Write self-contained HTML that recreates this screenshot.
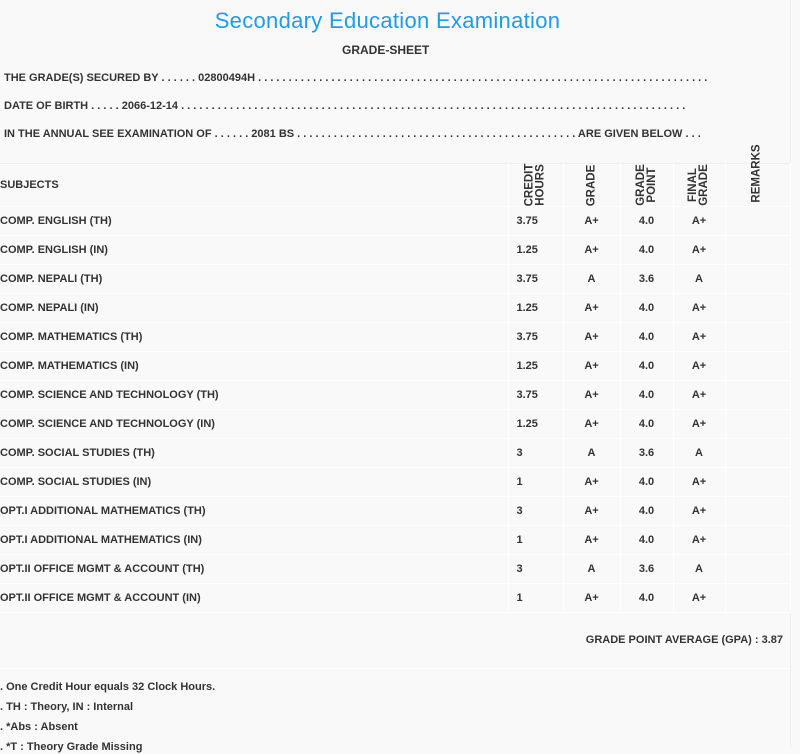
<!DOCTYPE html>
<html><head><meta charset="utf-8"><style>
body{margin:0;width:800px;height:747px;background:#f9f9f9;overflow:hidden;font-family:"Liberation Sans",sans-serif;color:#333;}
.t{position:absolute;white-space:nowrap;font-size:11px;font-weight:bold;line-height:14px}
.title{position:absolute;left:0;width:775px;text-align:center;top:8px;font-size:22px;color:#1e9be9;font-weight:normal;letter-spacing:0.3px}
.wrap{position:absolute;left:0;top:0;width:790px;height:747px;border-right:1px solid #eee}
table{position:absolute;left:0;top:163px;border-collapse:collapse;width:790px;table-layout:fixed}
td{border:1px solid #fff;border-left:none;height:28px;padding:0;font-size:11px;font-weight:bold;text-align:center;overflow:visible}
td:first-child{text-align:left}
tr.h td{height:42px;border-top:1px solid #eee}
.v{display:inline-block;transform:rotate(-90deg);line-height:11px;font-size:11.5px}
.c2{text-align:left!important;padding-left:8px!important}
</style></head><body>
<div class="wrap"></div>
<div class="title">Secondary Education Examination</div>
<div class="t" style="left:342px;top:43px;font-size:12px">GRADE-SHEET</div>
<div class="t" style="left:4px;top:71px">THE GRADE(S) SECURED BY . . . . . . 02800494H . . . . . . . . . . . . . . . . . . . . . . . . . . . . . . . . . . . . . . . . . . . . . . . . . . . . . . . . . . . . . . . . . . . . . . . . . .</div>
<div class="t" style="left:4px;top:99px">DATE OF BIRTH . . . . . 2066-12-14 . . . . . . . . . . . . . . . . . . . . . . . . . . . . . . . . . . . . . . . . . . . . . . . . . . . . . . . . . . . . . . . . . . . . . . . . . . . . . . . . . . .</div>
<div class="t" style="left:4px;top:127px">IN THE ANNUAL SEE EXAMINATION OF . . . . . . 2081 BS . . . . . . . . . . . . . . . . . . . . . . . . . . . . . . . . . . . . . . . . . . . . . . ARE GIVEN BELOW . . .</div>
<table>
<colgroup><col style="width:508px"><col style="width:55px"><col style="width:57px"><col style="width:53px"><col style="width:52px"><col style="width:65px"></colgroup>
<tr class="h"><td>SUBJECTS</td><td><span class="v">CREDIT<br>HOURS</span></td><td><span class="v">GRADE</span></td><td><span class="v">GRADE<br>POINT</span></td><td><span class="v">FINAL<br>GRADE</span></td><td><span class="v" style="position:relative;top:-12px">REMARKS</span></td></tr>
<tr><td>COMP. ENGLISH (TH)</td><td class="c2">3.75</td><td>A+</td><td>4.0</td><td>A+</td><td></td></tr>
<tr><td>COMP. ENGLISH (IN)</td><td class="c2">1.25</td><td>A+</td><td>4.0</td><td>A+</td><td></td></tr>
<tr><td>COMP. NEPALI (TH)</td><td class="c2">3.75</td><td>A</td><td>3.6</td><td>A</td><td></td></tr>
<tr><td>COMP. NEPALI (IN)</td><td class="c2">1.25</td><td>A+</td><td>4.0</td><td>A+</td><td></td></tr>
<tr><td>COMP. MATHEMATICS (TH)</td><td class="c2">3.75</td><td>A+</td><td>4.0</td><td>A+</td><td></td></tr>
<tr><td>COMP. MATHEMATICS (IN)</td><td class="c2">1.25</td><td>A+</td><td>4.0</td><td>A+</td><td></td></tr>
<tr><td>COMP. SCIENCE AND TECHNOLOGY (TH)</td><td class="c2">3.75</td><td>A+</td><td>4.0</td><td>A+</td><td></td></tr>
<tr><td>COMP. SCIENCE AND TECHNOLOGY (IN)</td><td class="c2">1.25</td><td>A+</td><td>4.0</td><td>A+</td><td></td></tr>
<tr><td>COMP. SOCIAL STUDIES (TH)</td><td class="c2">3</td><td>A</td><td>3.6</td><td>A</td><td></td></tr>
<tr><td>COMP. SOCIAL STUDIES (IN)</td><td class="c2">1</td><td>A+</td><td>4.0</td><td>A+</td><td></td></tr>
<tr><td>OPT.I ADDITIONAL MATHEMATICS (TH)</td><td class="c2">3</td><td>A+</td><td>4.0</td><td>A+</td><td></td></tr>
<tr><td>OPT.I ADDITIONAL MATHEMATICS (IN)</td><td class="c2">1</td><td>A+</td><td>4.0</td><td>A+</td><td></td></tr>
<tr><td>OPT.II OFFICE MGMT &amp; ACCOUNT (TH)</td><td class="c2">3</td><td>A</td><td>3.6</td><td>A</td><td></td></tr>
<tr><td>OPT.II OFFICE MGMT &amp; ACCOUNT (IN)</td><td class="c2">1</td><td>A+</td><td>4.0</td><td>A+</td><td></td></tr>
</table>
<div style="position:absolute;left:0;top:668px;width:790px;border-top:1px solid #fff"></div>
<div class="t" style="right:17px;top:633px">GRADE POINT AVERAGE (GPA) : 3.87</div>
<div class="t" style="left:0;top:680px">. One Credit Hour equals 32 Clock Hours.</div>
<div class="t" style="left:0;top:700px">. TH : Theory, IN : Internal</div>
<div class="t" style="left:0;top:720px">. *Abs : Absent</div>
<div class="t" style="left:0;top:740px">. *T : Theory Grade Missing</div>
</body></html>
